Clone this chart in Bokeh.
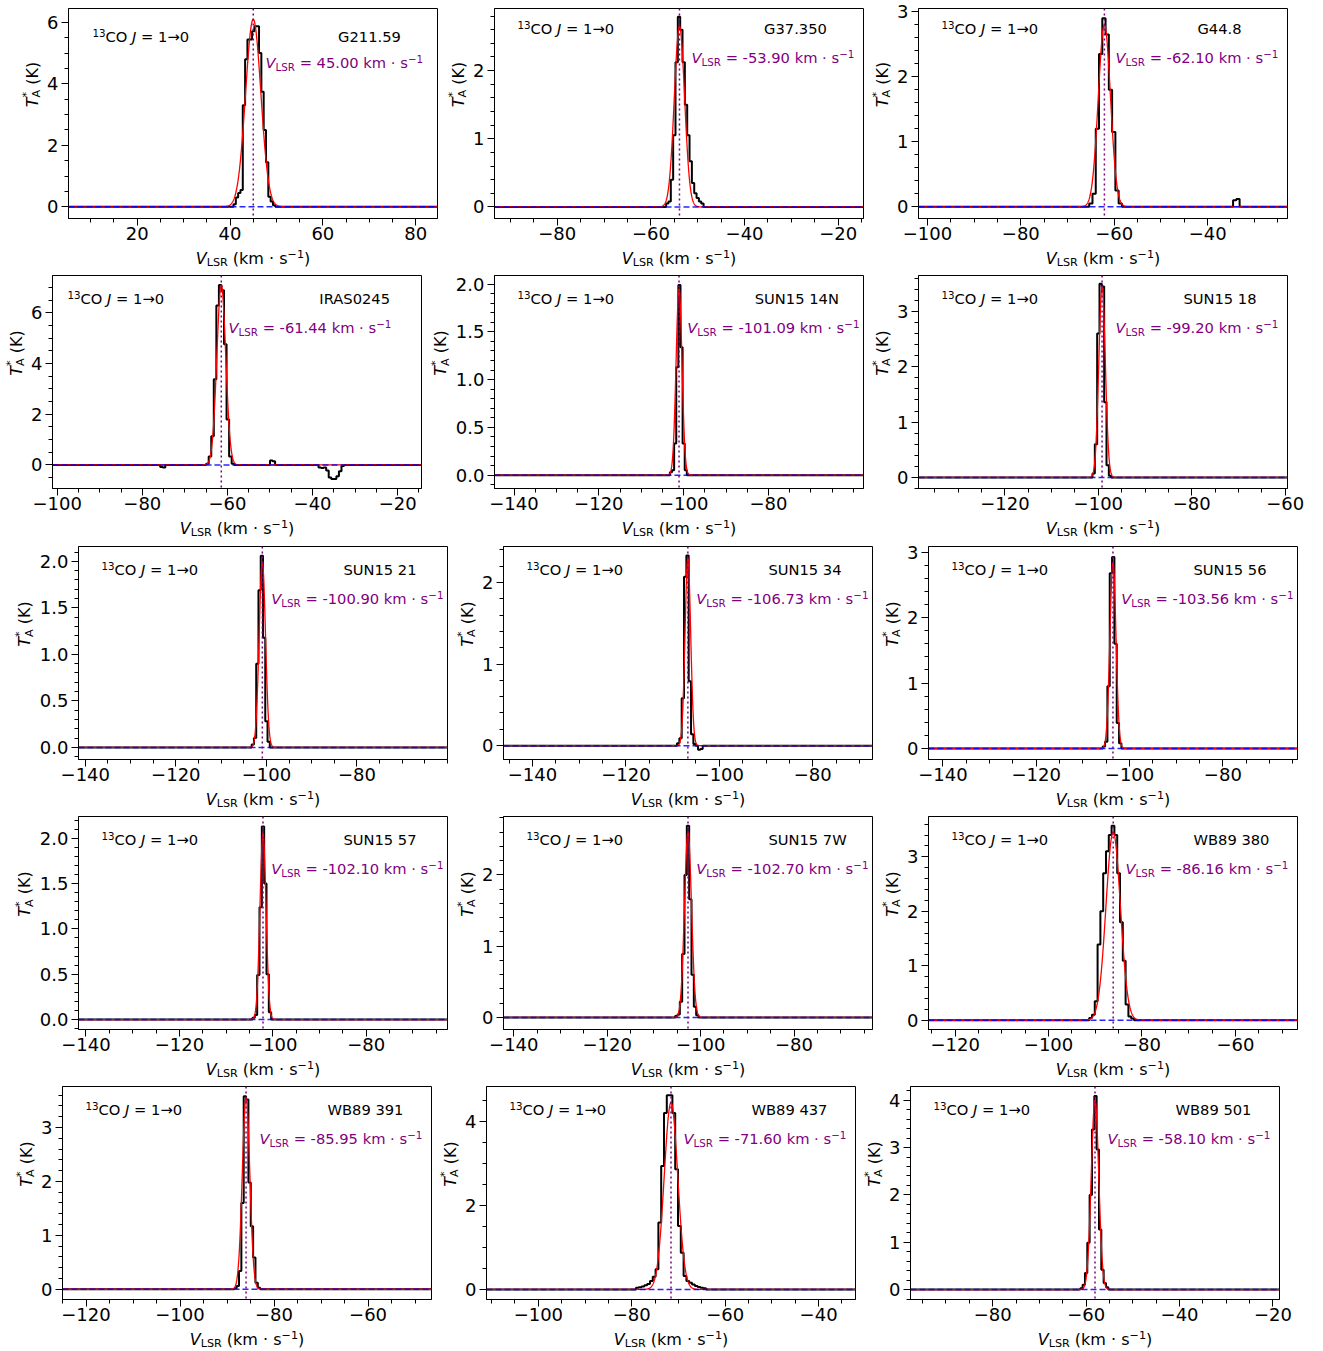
import numpy as np
from bokeh.plotting import figure
from bokeh.layouts import row, column
from bokeh.models import Label, Span, FixedTicker, CustomJSTickFormatter
from bokeh.embed import file_html
from bokeh.resources import INLINE

FONT = "DejaVu Sans"

# ------------------------------------------------------------------ data
NAMES = ["G211.59", "G37.350", "G44.8", "IRAS0245", "SUN15 14N", "SUN15 18",
         "SUN15 21", "SUN15 34", "SUN15 56", "SUN15 57", "SUN15 7W", "WB89 380",
         "WB89 391", "WB89 437", "WB89 501"]
VLSR = [45.00, -53.90, -62.10, -61.44, -101.09, -99.20, -100.90, -106.73, -103.56,
        -102.10, -102.70, -86.16, -85.95, -71.60, -58.10]
X_RANGES = [(5.2, 84.7), (-93.4, -14.6), (-101.9, -22.9), (-101.1, -14.4),
            (-144.6, -57.6), (-138.5, -59.5), (-141.5, -60.0), (-146.2, -67.2),
            (-143.1, -64.0), (-141.6, -62.6), (-142.2, -63.2), (-125.7, -46.7),
            (-125.0, -46.5), (-111.1, -32.1), (-97.6, -18.6)]
Y_RANGES = [(-0.38, 6.45), (-0.17, 2.91), (-0.18, 3.05), (-0.93, 7.48),
            (-0.14, 2.09), (-0.20, 3.65), (-0.13, 2.16), (-0.17, 2.44),
            (-0.17, 3.09), (-0.11, 2.24), (-0.17, 2.82), (-0.17, 3.74),
            (-0.19, 3.76), (-0.24, 4.83), (-0.21, 4.29)]
X_TICKS = [[20, 40, 60, 80], [-80, -60, -40, -20], [-100, -80, -60, -40],
           [-100, -80, -60, -40, -20], [-140, -120, -100, -80], [-120, -100, -80, -60],
           [-140, -120, -100, -80], [-140, -120, -100, -80], [-140, -120, -100, -80],
           [-140, -120, -100, -80], [-140, -120, -100, -80], [-120, -100, -80, -60],
           [-120, -100, -80, -60], [-100, -80, -60, -40], [-80, -60, -40, -20]]
Y_TICKS = [[0, 2, 4, 6], [0, 1, 2], [0, 1, 2, 3], [0, 2, 4, 6],
           [0, 0.5, 1.0, 1.5, 2.0], [0, 1, 2, 3], [0, 0.5, 1.0, 1.5, 2.0], [0, 1, 2],
           [0, 1, 2, 3], [0, 0.5, 1.0, 1.5, 2.0], [0, 1, 2], [0, 1, 2, 3],
           [0, 1, 2, 3], [0, 2, 4], [0, 1, 2, 3, 4]]
Y_DECIMALS = [0, 0, 0, 0, 1, 0, 1, 0, 0, 1, 0, 0, 0, 0, 0]

# channel width (km/s), first channel centre of the line, brightness temperatures
CHAN_WIDTH = [0.5, 0.5, 0.7, 0.6, 0.5, 0.5, 0.5, 0.5, 0.5, 0.5, 0.5, 0.6, 0.5, 0.6, 0.5]
LINE_START = [41.0, -56.5, -65.0, -64.7, -103.0, -101.0, -103.0, -108.8, -105.5,
              -104.1, -105.2, -91.0, -88.2, -78.8, -61.0]
T_G211 = [0.08, 0.3, 0.45, 0.55, 3.3, 4.8, 5.44, 5.44, 5.71, 5.87, 5.87, 5.0, 3.74,
          2.5, 1.45, 0.33, 0.17, 0.05]
T_G37 = [0.05, 0.08, 0.4, 1.05, 2.12, 2.79, 2.6, 2.12, 1.5, 1.05, 0.67, 0.35, 0.2,
         0.13, 0.08, 0.05]
T_G44 = [0.05, 0.2, 1.2, 2.35, 2.9, 2.65, 1.8, 1.15, 0.25, 0.05]
T_IRAS = [0.05, 0.33, 1.13, 3.38, 6.3, 7.1, 6.9, 4.77, 1.79, 0.33, 0.05]
T_S14N = [0.03, 0.05, 0.33, 1.13, 1.99, 1.34, 0.33, 0.05]
T_S18 = [0.07, 0.6, 2.6, 3.5, 3.45, 1.36, 0.22, 0.03]
T_S21 = [0.03, 0.1, 0.9, 1.69, 2.06, 1.18, 0.28, 0.06]
T_S34 = [0.03, 0.09, 0.58, 2.07, 2.33, 0.79, 0.14, 0.02, 0.0, -0.05, -0.04]
T_S56 = [0.03, 0.1, 0.95, 2.68, 2.93, 1.6, 0.39, 0.08]
T_S57 = [0.02, 0.05, 0.49, 1.24, 2.13, 1.5, 0.5, 0.08]
T_S7W = [0.02, 0.04, 0.22, 0.89, 2.0, 2.69, 1.66, 0.6, 0.15, 0.03]
T_W380 = [0.04, 0.1, 0.35, 1.39, 2.0, 2.7, 3.1, 3.4, 3.57, 3.4, 2.7, 1.8, 1.09, 0.29,
          0.07, 0.03]
T_W391 = [0.02, 0.06, 0.34, 1.6, 3.58, 3.52, 1.98, 1.17, 0.59, 0.12, 0.03]
T_W437 = [0.04, 0.05, 0.07, 0.1, 0.13, 0.2, 0.3, 0.48, 1.59, 2.94, 4.2, 4.62, 4.62,
          4.2, 2.86, 1.51, 0.87, 0.32, 0.2, 0.16, 0.12, 0.08, 0.06, 0.04, 0.03]
T_W501 = [0.03, 0.1, 0.35, 0.99, 2.0, 3.38, 4.09, 2.96, 1.27, 0.42, 0.14, 0.05]
LINE_T = [T_G211, T_G37, T_G44, T_IRAS, T_S14N, T_S18, T_S21, T_S34, T_S56, T_S57,
          T_S7W, T_W380, T_W391, T_W437, T_W501]

# other spectral features (first channel centre, values)
FEAT_G44 = [(-33.9, [0.1, 0.12])]
FEAT_IRAS = [(-75.5, [-0.08, -0.1]), (-50.0, [0.18, 0.15]),
             (-38.3, [-0.1, -0.12, -0.1, -0.22, -0.5, -0.55, -0.55, -0.45, -0.25, -0.04])]
FEATURES = {2: FEAT_G44, 3: FEAT_IRAS}

# Gaussian fit parameters (amplitude, sigma); centre = VLSR
FIT_AMP = [6.1, 2.65, 2.8, 7.1, 1.95, 3.45, 2.0, 2.3, 2.85, 2.05, 2.6, 3.45, 3.55, 4.45, 4.0]
FIT_SIGMA = [1.65, 1.1, 1.3, 1.05, 0.7, 0.7, 0.7, 0.6, 0.65, 0.65, 0.75, 1.55, 0.8, 1.45, 0.8]

# ------------------------------------------------------------------ layout
FW = 369
TOTAL_W = 1315
ROW_FL = [[68, 494, 918], [52, 494, 918], [78, 503, 928], [78, 503, 928], [62, 486, 910]]
ROW_FRAME_TOP = [8, 275, 546, 816, 1086]
ROW_FH = [210, 213, 213, 213, 213]
ROW_T = [8, 5, 5, 5, 5]
PAGE_H = 1350
BOTTOM = 29
GAP = 6
# text offsets inside frame: (title x, name centre x, vlsr x, title y, vlsr y) px
TXT_STD = (23, 300, 197, 23, 52)
TXT_SPECIAL = {0: (24, 300, 197, 28, 54), 1: (23, 300, 197, 20, 49),
               2: (23, 300, 197, 20, 49), 3: (15, 305, 176, 23, 52)}
TXT_SIZE = 14.7
LAB_SIZE = 16.0
TICK_SIZE = 18
CAPC = 0.365   # cap-centre height above baseline, in em
SUP, SUB = 0.38, -0.17

CW = {' ': 0.318, '.': 0.318, '-': 0.361, '\u2212': 0.838, '=': 0.838, '(': 0.390,
      ')': 0.390, '\u00b7': 0.318, '\u2192': 0.838, '*': 0.5, 'k': 0.579, 'm': 0.974,
      's': 0.521, 'A': 0.684, 'C': 0.698, 'J': 0.295, 'K': 0.656, 'L': 0.557,
      'O': 0.787, 'R': 0.695, 'S': 0.635, 'T': 0.611, 'V': 0.684}


def tw(s, size):
    return sum(CW.get(c, 0.636) for c in s) * size


def rich_width(pieces, size):
    return sum(tw(t, size * sc) for t, sc, st, sh, adv in pieces if adv)


def rich(p, ax, ay, pieces, size, color, d_along, d_centre, angle=0.0, center=False):
    """Place a multi-style text; d_centre is the position of the cap centre of
    the main-size text (y up for horizontal text, x for rotated text)."""
    total = rich_width(pieces, size)
    cum = -total / 2 if center else 0.0
    for t, sc, st, sh, adv in pieces:
        fs = size * sc
        up = sh * size + CAPC * (fs - size)
        lead = len(t) - len(t.lstrip(' '))
        core = t.strip(' ')
        pos = d_along + cum + lead * CW[' '] * fs
        if angle == 0.0:
            xo, yo = pos, d_centre + up
        else:
            xo, yo = d_centre - up, pos
        p.add_layout(Label(x=ax, y=ay, x_offset=xo, y_offset=yo, text=core,
                           text_font=FONT, text_font_size=f"{fs:.1f}px",
                           text_font_style=st, text_color=color, text_align="left",
                           text_baseline="alphabetic", angle=angle))
        if adv:
            cum += tw(t, fs)


def spectrum(i):
    xmin, xmax = X_RANGES[i]
    dv = CHAN_WIDTH[i]
    s0 = LINE_START[i]
    k0 = int(np.floor((xmin - s0) / dv))
    k1 = int(np.ceil((xmax - s0) / dv))
    v = s0 + dv * np.arange(k0, k1 + 1)
    t = np.zeros_like(v)
    segs = [(s0, LINE_T[i])] + FEATURES.get(i, [])
    for start, vals in segs:
        for j, val in enumerate(vals):
            idx = int(np.argmin(np.abs(v - (start + j * dv))))
            t[idx] = val
    return v, t


def fmt(dec):
    return CustomJSTickFormatter(args=dict(d=dec), code="""
        const s = Math.abs(tick).toFixed(d);
        return (tick < 0 ? '\u2212' : '') + s;""")


def minor(ticks, lo, hi, ndiv):
    step = (ticks[1] - ticks[0]) / ndiv
    k0 = int(np.floor(lo / step)) - 1
    k1 = int(np.ceil(hi / step)) + 1
    return [round(k * step, 6) for k in range(k0, k1 + 1)]


def ytick_width(i):
    return max(tw(("%." + str(Y_DECIMALS[i]) + "f") % y, TICK_SIZE) for y in Y_TICKS[i])


def strip(w, h):
    s = figure(width=int(w), height=int(h), x_range=(0, w), y_range=(0, h),
               x_axis_type=None, y_axis_type=None, output_backend="svg",
               toolbar_location=None, min_border=0)
    s.min_border_left = s.min_border_right = s.min_border_top = s.min_border_bottom = 0
    s.outline_line_color = None
    s.xgrid.visible = False
    s.ygrid.visible = False
    s.background_fill_color = "white"
    s.border_fill_color = "white"
    return s


TITLE_PIECES = [("13", 0.7, "normal", SUP, True), ("CO ", 1, "normal", 0, True),
                ("J", 1, "italic", 0, True), (" = 1\u21920", 1, "normal", 0, True)]
XLAB_PIECES = [("V", 1, "italic", 0, True), ("LSR", 0.7, "normal", SUB, True),
               (" (km \u00b7 s", 1, "normal", 0, True),
               ("\u22121", 0.7, "normal", SUP, True), (")", 1, "normal", 0, True)]
YLAB_PIECES = [("T", 1, "italic", 0, True), ("*", 0.7, "normal", 0.45, False),
               ("A", 0.7, "normal", SUB, True), (" (K)", 1, "normal", 0, True)]


def panel(i, left, right, top, fh):
    xmin, xmax = X_RANGES[i]
    ymin, ymax = Y_RANGES[i]
    p = figure(frame_width=FW, frame_height=fh, x_range=(xmin, xmax),
               y_range=(ymin, ymax), output_backend="svg", toolbar_location=None,
               min_border_left=left, min_border_right=right, min_border_top=top,
               min_border_bottom=BOTTOM)
    p.xgrid.visible = False
    p.ygrid.visible = False
    p.outline_line_color = "black"
    p.outline_line_width = 1
    p.background_fill_color = "white"
    p.border_fill_color = "white"

    xt = X_TICKS[i]
    yt = Y_TICKS[i]
    ystep = yt[1] - yt[0]
    ydiv = 4 if ystep == 2 else 5
    p.xaxis.ticker = FixedTicker(ticks=xt, minor_ticks=minor(xt, xmin, xmax, 4))
    p.yaxis.ticker = FixedTicker(ticks=yt, minor_ticks=minor(yt, ymin, ymax, ydiv))
    p.xaxis.formatter = fmt(0)
    p.yaxis.formatter = fmt(Y_DECIMALS[i])
    for ax in (p.xaxis[0], p.yaxis[0]):
        ax.axis_line_color = "black"
        ax.major_tick_line_color = "black"
        ax.minor_tick_line_color = "black"
        ax.major_tick_in = 0
        ax.major_tick_out = 7
        ax.minor_tick_in = 0
        ax.minor_tick_out = 4
        ax.major_label_text_font = FONT
        ax.major_label_text_font_size = f"{TICK_SIZE}px"
        ax.major_label_text_color = "black"
    p.xaxis.major_label_standoff = 1
    p.yaxis.major_label_standoff = 3

    v, t = spectrum(i)
    p.step(v, t, mode="center", line_color="black", line_width=2)
    xs = np.linspace(xmin, xmax, 1600)
    p.line(xs, FIT_AMP[i] * np.exp(-0.5 * ((xs - VLSR[i]) / FIT_SIGMA[i]) ** 2),
           line_color="red", line_width=1.3)
    p.line([xmin, xmax], [0, 0], line_color="blue", line_dash="6 3", line_width=1.5,
           line_alpha=0.85)
    p.add_layout(Span(location=VLSR[i], dimension="height", line_color="#800080",
                      line_dash="2 3", line_width=1.5))

    tx, nx, vx, ty, vy = TXT_SPECIAL.get(i, TXT_STD)
    rich(p, xmin, ymax, TITLE_PIECES, TXT_SIZE, "black", tx, -ty)
    rich(p, xmin, ymax, [(NAMES[i], 1, "normal", 0, True)], TXT_SIZE, "black", nx,
         -ty, center=True)
    vpieces = [("V", 1, "italic", 0, True), ("LSR", 0.7, "normal", SUB, True),
               (f" = {VLSR[i]:.2f} km \u00b7 s", 1, "normal", 0, True),
               ("\u22121", 0.7, "normal", SUP, True)]
    vw = rich_width(vpieces, TXT_SIZE)
    vx = min(vx, FW - vw - 4)
    rich(p, xmin, ymax, vpieces, TXT_SIZE, "#800080", vx, -vy)
    return p


blocks = []
for r in range(5):
    T = ROW_T[r]
    fh = ROW_FH[r]
    fig_top = ROW_FRAME_TOP[r] - T
    next_top = ROW_FRAME_TOP[r + 1] - ROW_T[r + 1] if r < 4 else PAGE_H
    main_h = T + fh + BOTTOM
    strip_h = next_top - (fig_top + main_h)
    top_children = []
    bot_children = []
    cl = 0
    for c in range(3):
        i = r * 3 + c
        fl = ROW_FL[r][c]
        labw = ytick_width(i)
        lm = int(np.ceil(labw + 13))
        ysw = fl - lm - cl
        rm = GAP if c < 2 else TOTAL_W - (fl + FW)
        # y label strip
        ys = strip(ysw, main_h)
        yc = (fl - (labw + 25)) - cl
        rich(ys, 0, 0, YLAB_PIECES, LAB_SIZE, "black", main_h - T - fh / 2, yc,
             angle=np.pi / 2, center=True)
        top_children.append(ys)
        top_children.append(panel(i, lm, rm, T, fh))
        # x label strip
        cell_w = ysw + lm + FW + rm
        xs_ = strip(cell_w, strip_h)
        rich(xs_, 0, 0, XLAB_PIECES, LAB_SIZE, "black", fl + FW / 2 - cl,
             strip_h - 10.8, center=True)
        bot_children.append(xs_)
        cl += cell_w
    blocks.append(column(row(*top_children, spacing=0), row(*bot_children, spacing=0),
                         spacing=0))

layout = column(*blocks, spacing=0)
open("out.html", "w").write(file_html(layout, INLINE))
